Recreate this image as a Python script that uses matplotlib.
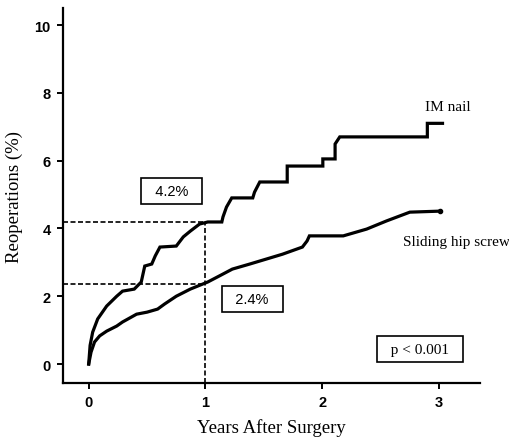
import matplotlib
matplotlib.use("Agg")
import matplotlib.pyplot as plt

# IM nail curve (years, reoperation %)
im_x = [0, 0.012, 0.034, 0.077, 0.154, 0.24, 0.29, 0.39, 0.45, 0.48, 0.54, 0.57, 0.61, 0.75, 0.81,
        0.87, 0.95, 1.02, 1.14, 1.15, 1.18, 1.225, 1.405, 1.42, 1.465, 1.70, 1.70, 2.005, 2.005,
        2.11, 2.11, 2.15, 2.90, 2.90, 3.03]
im_y = [0, 0.55, 0.94, 1.33, 1.71, 2.0, 2.15, 2.21, 2.42, 2.89, 2.95, 3.19, 3.45, 3.48, 3.75,
        3.92, 4.13, 4.19, 4.19, 4.34, 4.63, 4.90, 4.90, 5.07, 5.37, 5.37, 5.84, 5.84, 6.05,
        6.05, 6.49, 6.70, 6.70, 7.1, 7.1]

# Sliding hip screw curve
shs_x = [0, 0.02, 0.05, 0.094, 0.154, 0.24, 0.29, 0.41, 0.50, 0.59, 0.65, 0.75, 0.87, 1.02, 1.12,
         1.23, 1.38, 1.525, 1.66, 1.83, 1.87, 1.89, 2.18, 2.38, 2.55, 2.75, 3.01]
shs_y = [0, 0.35, 0.65, 0.83, 0.97, 1.12, 1.24, 1.47, 1.53, 1.62, 1.77, 2.0, 2.21, 2.42, 2.6,
         2.8, 2.95, 3.1, 3.24, 3.45, 3.63, 3.78, 3.78, 3.98, 4.22, 4.48, 4.51]

x_ticks = [0, 1, 2, 3]
y_ticks = [0, 2, 4, 6, 8, 10]
ref_year = 1
im_at_1 = 4.2
shs_at_1 = 2.35

fig = plt.figure(figsize=(5.09, 4.39), dpi=100)
ax = fig.add_axes([0.1238, 0.1253, 0.819, 0.854])

ax.plot(im_x, im_y, color="black", lw=2.3, solid_joinstyle="miter")
ax.plot(shs_x, shs_y, color="black", lw=2.3, solid_joinstyle="miter")
ax.plot([shs_x[-1]], [shs_y[-1]], "o", color="black", ms=3)

xmin, xmax = -0.22, 3.35
ymin, ymax = -0.56, 10.5
ax.set_xlim(xmin, xmax)
ax.set_ylim(ymin, ymax)

dash = dict(color="black", lw=1.2, ls=(0, (3, 1.5)))
ax.plot([xmin, ref_year], [im_at_1, im_at_1], **dash)
ax.plot([xmin, ref_year], [shs_at_1, shs_at_1], **dash)
ax.plot([ref_year, ref_year], [ymin, im_at_1], **dash)

def boxed(x, y, s, family, size):
    ax.text(x, y, s, ha="center", va="center", fontsize=size, family=family,
            bbox=dict(boxstyle="square,pad=0.4", fc="white", ec="black", lw=1.2))

boxed(0.71, 5.1, "  4.2%  ", "Liberation Sans", 10.5)
boxed(1.40, 1.92, "  2.4%  ", "Liberation Sans", 10.5)
boxed(2.84, 0.44, "  p < 0.001  ", "Liberation Serif", 11)

ax.text(2.88, 7.6, "IM nail", ha="left", va="center", fontsize=11, family="Liberation Serif")
ax.text(2.69, 3.6, "Sliding hip screw", ha="left", va="center", fontsize=11,
        family="Liberation Serif", clip_on=False)

ax.set_xticks(x_ticks)
ax.set_yticks(y_ticks)
for lab in ax.get_xticklabels() + ax.get_yticklabels():
    lab.set_fontfamily("Liberation Sans")
    lab.set_fontweight("bold")
    lab.set_fontsize(10.5)
ax.tick_params(direction="out", length=4, width=1.4, pad=5)

for s in ["top", "right"]:
    ax.spines[s].set_visible(False)
for s in ["left", "bottom"]:
    ax.spines[s].set_linewidth(1.6)

ax.set_xlabel("Years After Surgery", family="Liberation Serif", fontsize=13.5, labelpad=6)
ax.set_ylabel("Reoperations (%)", family="Liberation Serif", fontsize=13.5, labelpad=8)

fig.savefig("out.png", dpi=100)
